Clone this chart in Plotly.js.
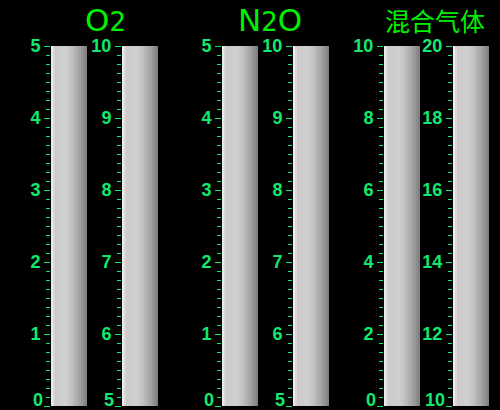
<!DOCTYPE html>
<html>
<head>
<meta charset="utf-8">
<script src="https://cdn.plot.ly/plotly-3.0.1.min.js"></script>
<style>html,body{margin:0;padding:0;background:#000;}#chart{width:500px;height:410px;}</style>
</head>
<body>
<div id="chart"></div>
<script>
// ---- data ----
const groupTitles = ['O<span style="font-size:26px">2</span>', 'N<span style="font-size:26px">2</span>O', '混合气体'];
const gaugeMin   = [0, 5, 0, 5, 0, 10];
const gaugeMax   = [5, 10, 5, 10, 10, 20];
const gaugeValue = [5, 10, 5, 10, 10, 20];
const majorStep  = [1, 1, 1, 1, 2, 2];
const minorStep  = [0.125, 0.125, 0.125, 0.125, 0.25, 0.25];

// ---- layout constants ----
const W = 500, H = 410;
const barLeft = [51, 122, 222, 293, 384, 453];
const barW = 36;
const titleCenter = [105, 270, 435];
const titleSize = [31, 31, 25];
const titleFont = ['DejaVu Sans, Verdana, sans-serif', 'DejaVu Sans, Verdana, sans-serif', 'Noto Sans CJK SC, sans-serif'];
const tickGreen = 'rgb(20,232,110)';
const titleGreen = 'rgb(0,240,0)';
const mT = 46, mB = 4;
const tickFont = {family: 'Liberation Sans, Arial, sans-serif', size: 18, color: tickGreen, weight: 700};

function shade(t) {
  const stops = [[0, 228], [0.05, 240], [0.1, 202], [0.4, 208], [0.6, 190], [0.82, 158], [1, 124]];
  for (let i = 1; i < stops.length; i++) {
    if (t <= stops[i][0]) {
      const a = stops[i - 1], b = stops[i];
      const v = Math.round(a[1] + (b[1] - a[1]) * (t - a[0]) / (b[0] - a[0]));
      return 'rgb(' + v + ',' + v + ',' + v + ')';
    }
  }
  return 'rgb(124,124,124)';
}

const N = 18;
const traces = [];
const layout = {
  width: W, height: H,
  paper_bgcolor: '#000', plot_bgcolor: 'rgba(0,0,0,0)',
  margin: {l: 0, r: 0, t: mT, b: mB, pad: 0},
  showlegend: false,
  barmode: 'overlay',
  annotations: []
};

const n = gaugeMin.length;
for (let i = 0; i < n; i++) {
  const xa = 'x' + (i + 1), ya = 'y' + (i + 1), ya2 = 'y' + (n + i + 1);
  for (let k = 0; k < N; k++) {
    traces.push({
      type: 'bar',
      x: [0],
      y: [gaugeValue[i] - gaugeMin[i]],
      base: [gaugeMin[i]],
      width: [1 - k / N],
      offset: [-0.5 + k / N],
      marker: {color: shade((k + 0.5) / N), line: {width: 0}},
      xaxis: xa, yaxis: ya,
      hoverinfo: 'skip'
    });
  }
  // invisible helper so the label-only overlay axis gets drawn
  traces.push({
    type: 'scatter', mode: 'markers', x: [0], y: [gaugeMin[i]],
    marker: {size: 1, opacity: 0}, xaxis: xa, yaxis: ya2, hoverinfo: 'skip'
  });
  const xKey = 'xaxis' + (i === 0 ? '' : (i + 1));
  const yKey = 'yaxis' + (i === 0 ? '' : (i + 1));
  layout[xKey] = {
    domain: [barLeft[i] / W, (barLeft[i] + barW) / W],
    range: [-0.5, 0.5], visible: false, fixedrange: true,
    anchor: ya
  };
  layout[yKey] = {
    domain: [0, 1], anchor: xa,
    range: [gaugeMin[i], gaugeMax[i]],
    showgrid: false, zeroline: false, showline: false,
    ticks: 'outside', ticklen: 6, tickwidth: 1, tickcolor: tickGreen,
    tick0: gaugeMin[i], dtick: majorStep[i],
    tickfont: tickFont,
    minor: {ticks: 'outside', ticklen: 4, tickwidth: 1, tickcolor: tickGreen, dtick: minorStep[i], tick0: gaugeMin[i], showgrid: false},
    fixedrange: true
  };
  // overlay axis carrying only the bottom label, lifted above its tick
  layout['yaxis' + (n + i + 1)] = {
    overlaying: ya, anchor: xa, side: 'left',
    range: [gaugeMin[i], gaugeMax[i]],
    showgrid: false, zeroline: false, showline: false,
    ticks: '', tickmode: 'array', tickvals: [gaugeMin[i]], ticktext: [String(gaugeMin[i])],
    ticklabelposition: 'outside top', ticklabeloverflow: 'allow',
    ticklabelstandoff: 7, ticklabelshift: 6,
    tickfont: tickFont, fixedrange: true
  };
}

const plotH = H - mT - mB;
for (let g = 0; g < groupTitles.length; g++) {
  layout.annotations.push({
    xref: 'paper', yref: 'paper',
    x: titleCenter[g] / W, y: 1 + (mT - 20) / plotH,
    xanchor: 'center', yanchor: 'middle',
    text: groupTitles[g], showarrow: false,
    font: {family: titleFont[g], size: titleSize[g], color: titleGreen}
  });
}

Plotly.newPlot('chart', traces, layout, {staticPlot: true, displayModeBar: false});
</script>
</body>
</html>
